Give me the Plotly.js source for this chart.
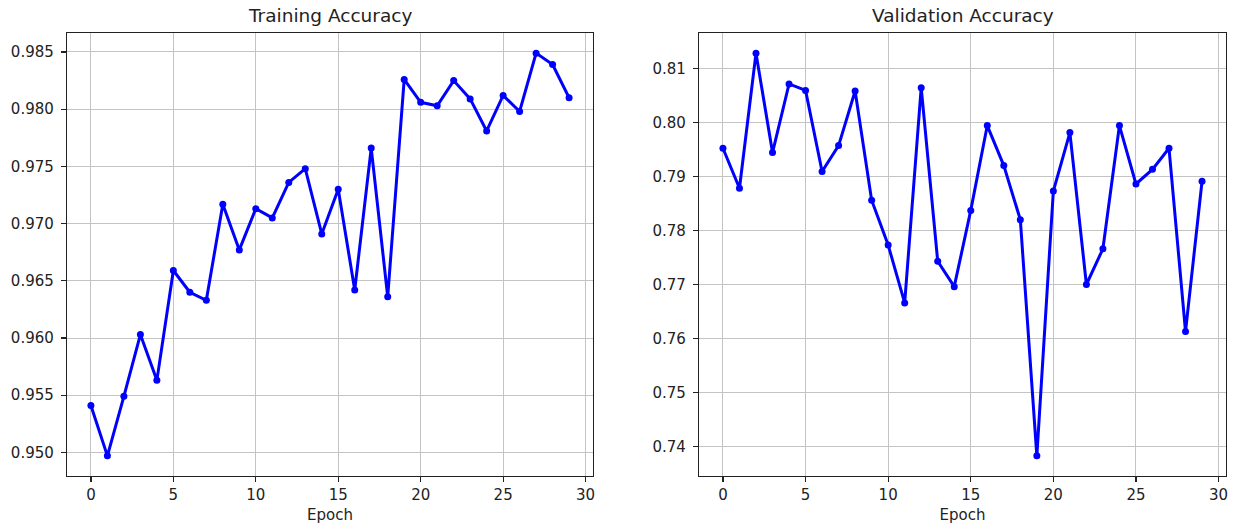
<!DOCTYPE html>
<html>
<head>
<meta charset="utf-8">
<script src="https://cdn.plot.ly/plotly-3.0.1.min.js"></script>
<style>html,body{margin:0;padding:0;background:#fff;}#chart{width:1239px;height:529px;}</style>
</head>
<body>
<div id="chart"></div>
<script>
const epochs = Array.from({length: 30}, (_, i) => i);
const trainAcc = [0.9541, 0.9497, 0.9549, 0.9603, 0.9563, 0.9659, 0.9640, 0.9633, 0.9717, 0.9677,
                  0.9713, 0.9705, 0.9736, 0.9748, 0.9691, 0.9730, 0.9642, 0.9766, 0.9636, 0.9826,
                  0.9806, 0.9803, 0.9825, 0.9809, 0.9781, 0.9812, 0.9798, 0.9849, 0.9839, 0.9810];
const valAcc = [0.7952, 0.7878, 0.8128, 0.7944, 0.8071, 0.8059, 0.7909, 0.7957, 0.8058, 0.7856,
                0.7773, 0.7666, 0.8064, 0.7743, 0.7696, 0.7837, 0.7994, 0.7920, 0.7820, 0.7383,
                0.7873, 0.7981, 0.7700, 0.7766, 0.7994, 0.7886, 0.7913, 0.7952, 0.7613, 0.7891];
const titles = ["Training Accuracy", "Validation Accuracy"];
const xTitle = "Epoch";

const FONT = "DejaVu Sans, sans-serif";
const lineStyle = {color: "#0000ff", width: 3};
const markerStyle = {color: "#0000ff", size: 7, symbol: "circle"};

const traces = [
  {x: epochs, y: trainAcc, type: "scatter", mode: "lines+markers", line: lineStyle, marker: markerStyle, xaxis: "x", yaxis: "y", showlegend: false},
  {x: epochs, y: valAcc, type: "scatter", mode: "lines+markers", line: lineStyle, marker: markerStyle, xaxis: "x2", yaxis: "y2", showlegend: false}
];

function pad(arr) {
  const mn = Math.min(...arr), mx = Math.max(...arr);
  const m = (mx - mn) * 0.05;
  return [mn - m, mx + m];
}

const axisCommon = {
  showline: true, mirror: true, linecolor: "#222", linewidth: 1.2,
  showgrid: true, gridcolor: "#c4c4c4", gridwidth: 1,
  zeroline: false,
  ticks: "outside", ticklen: 5, tickwidth: 1.2, tickcolor: "#222",
  tickfont: {family: FONT, size: 15, color: "#222"},
  automargin: false
};

const H = 529, W = 1239;
const yDom = [(H - 476) / H, (H - 33) / H];

const layout = {
  width: W, height: H,
  paper_bgcolor: "#fff", plot_bgcolor: "#fff",
  margin: {l: 0, r: 0, t: 0, b: 0},
  showlegend: false,
  xaxis: Object.assign({}, axisCommon, {domain: [67 / W, 593 / W], range: [-1.45, 30.45], tick0: 0, dtick: 5, anchor: "y",
    title: {text: xTitle, font: {family: FONT, size: 15, color: "#222"}, standoff: 6}}),
  yaxis: Object.assign({}, axisCommon, {domain: yDom, range: pad(trainAcc), dtick: 0.005, tickformat: ".3f", anchor: "x", ticklabelstandoff: 4}),
  xaxis2: Object.assign({}, axisCommon, {domain: [699 / W, 1226 / W], range: [-1.45, 30.45], tick0: 0, dtick: 5, anchor: "y2",
    title: {text: xTitle, font: {family: FONT, size: 15, color: "#222"}, standoff: 6}}),
  yaxis2: Object.assign({}, axisCommon, {domain: yDom, range: pad(valAcc), dtick: 0.01, tickformat: ".2f", anchor: "x2", ticklabelstandoff: 4}),
  annotations: [
    {text: titles[0], xref: "paper", yref: "paper", x: 330 / W, y: (H - 16) / H, xanchor: "center", yanchor: "middle", showarrow: false,
     font: {family: FONT, size: 18.5, color: "#222"}},
    {text: titles[1], xref: "paper", yref: "paper", x: 962.5 / W, y: (H - 16) / H, xanchor: "center", yanchor: "middle", showarrow: false,
     font: {family: FONT, size: 18.5, color: "#222"}}
  ]
};

Plotly.newPlot("chart", traces, layout, {staticPlot: true, displayModeBar: false});
</script>
</body>
</html>
